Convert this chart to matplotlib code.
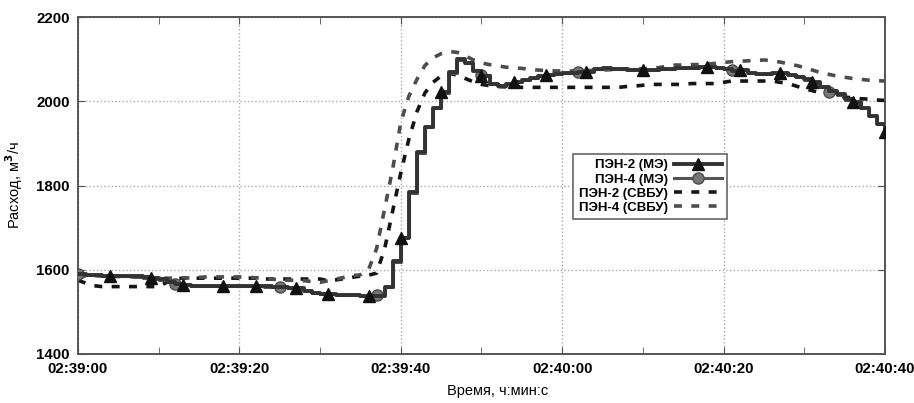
import numpy as np
import matplotlib
matplotlib.use("Agg")
from matplotlib import pyplot as plt
from matplotlib.ticker import MultipleLocator, FixedLocator

# seconds after 02:39:00, one sample per second
t = np.arange(0, 101)

pen2_me = [1590, 1588, 1587, 1586, 1586, 1586, 1585, 1584, 1582, 1581,
           1578, 1572, 1567, 1563, 1562, 1562, 1562, 1562, 1562, 1562,
           1562, 1562, 1562, 1561, 1560, 1558, 1557, 1556, 1550, 1545,
           1543, 1542, 1541, 1540, 1539, 1538, 1538, 1538, 1560, 1620,
           1676, 1784, 1879, 1940, 1985, 2022, 2070, 2100, 2092, 2072,
           2060, 2040, 2036, 2042, 2046, 2050, 2055, 2060, 2062, 2064,
           2066, 2068, 2070, 2070, 2076, 2078, 2077, 2076, 2075, 2074,
           2074, 2075, 2076, 2077, 2078, 2079, 2080, 2081, 2082, 2080,
           2076, 2073, 2075, 2068, 2065, 2064, 2066, 2066, 2062, 2058,
           2052, 2046, 2034, 2024, 2018, 2005, 1998, 1985, 1965, 1945,
           1927]

pen4_me = [1591, 1588, 1587, 1586, 1586, 1585, 1584, 1583, 1581, 1579,
           1575, 1570, 1566, 1563, 1562, 1562, 1562, 1562, 1562, 1562,
           1562, 1562, 1561, 1560, 1559, 1558, 1557, 1555, 1549, 1545,
           1543, 1542, 1541, 1540, 1539, 1538, 1538, 1539, 1558, 1618,
           1678, 1782, 1877, 1940, 1983, 2020, 2068, 2098, 2090, 2074,
           2062, 2042, 2037, 2042, 2046, 2050, 2055, 2059, 2062, 2064,
           2066, 2069, 2070, 2071, 2076, 2077, 2077, 2076, 2075, 2074,
           2074, 2075, 2076, 2077, 2078, 2079, 2080, 2081, 2081, 2079,
           2076, 2074, 2075, 2068, 2065, 2064, 2066, 2066, 2062, 2057,
           2051, 2044, 2033, 2022, 2016, 2004, 1997, 1984, 1965, 1946,
           1928]

pen2_svbu = [1575, 1568, 1562, 1560, 1560, 1560, 1560, 1560, 1560, 1560,
             1560, 1570, 1578, 1580, 1580, 1580, 1580, 1580, 1580, 1580,
             1580, 1580, 1580, 1578, 1578, 1578, 1578, 1578, 1578, 1578,
             1578, 1574, 1576, 1579, 1582, 1585, 1587, 1592, 1650, 1740,
             1830, 1910, 1975, 2020, 2045, 2060, 2066, 2062, 2054, 2046,
             2040, 2037, 2035, 2034, 2034, 2033, 2033, 2033, 2033, 2033,
             2033, 2033, 2033, 2033, 2033, 2033, 2033, 2033, 2035, 2036,
             2038, 2040, 2040, 2040, 2040, 2040, 2042, 2042, 2042, 2042,
             2045, 2048, 2048, 2048, 2048, 2048, 2048, 2045, 2042, 2036,
             2030, 2025, 2020, 2015, 2012, 2010, 2008, 2006, 2005, 2003,
             2002]

pen4_svbu = [1580, 1586, 1586, 1585, 1585, 1584, 1584, 1583, 1582, 1581,
             1580, 1580, 1580, 1580, 1581, 1582, 1583, 1583, 1583, 1583,
             1583, 1582, 1581, 1580, 1578, 1576, 1575, 1575, 1574, 1572,
             1570, 1574, 1578, 1582, 1586, 1588, 1600, 1650, 1745, 1840,
             1950, 2012, 2052, 2085, 2103, 2113, 2118, 2116, 2108, 2098,
             2091, 2087, 2084, 2081, 2079, 2078, 2076, 2074, 2073, 2072,
             2072, 2072, 2072, 2073, 2073, 2074, 2075, 2076, 2076, 2077,
             2077, 2078, 2080, 2083, 2086, 2086, 2087, 2087, 2088, 2090,
             2092, 2094, 2095, 2096, 2097, 2098, 2096, 2093, 2089, 2085,
             2080, 2074, 2068, 2064, 2060, 2057, 2054, 2052, 2050, 2049,
             2048]

tri_idx = [4, 9, 13, 18, 22, 27, 31, 36, 40, 45, 50, 54, 58, 63, 70, 78,
           82, 87, 91, 96, 100]
circ_idx = [0, 12, 25, 37, 50, 62, 81, 93]

xtick_pos = [0, 20, 40, 60, 80, 100]
xtick_labels = ['02:39:00', '02:39:20', '02:39:40', '02:40:00', '02:40:20', '02:40:40']

plt.rcParams['font.family'] = ['Liberation Sans', 'DejaVu Sans']
plt.rcParams['font.weight'] = 'bold'

fig = plt.figure(figsize=(9.14, 4.03), dpi=100)
ax = fig.add_axes([0.0853, 0.1216, 0.8830, 0.8362])

ax.plot(t, pen2_me, color='#333333', lw=2.8, drawstyle='steps-post',
        marker='^', markersize=9, markevery=tri_idx, markerfacecolor='#111111',
        markeredgecolor='#111111', label='ПЭН-2 (МЭ)', zorder=4)
ax.plot(t, pen4_me, color='#555555', lw=2.2, drawstyle='steps-post',
        marker='o', markersize=8, markevery=circ_idx, markerfacecolor='#777777',
        markeredgecolor='#4a4a4a', label='ПЭН-4 (МЭ)', zorder=3)
ax.plot(t, pen2_svbu, color='#151515', lw=2.6, dashes=(2.2, 2.6),
        label='ПЭН-2 (СВБУ)', zorder=2)
ax.plot(t, pen4_svbu, color='#4d4d4d', lw=2.6, dashes=(2.2, 2.6),
        label='ПЭН-4 (СВБУ)', zorder=2)

ax.set_xlim(0, 100)
ax.set_ylim(1400, 2200)
ax.xaxis.set_major_locator(FixedLocator(xtick_pos))
ax.set_xticklabels(xtick_labels)
ax.xaxis.set_minor_locator(MultipleLocator(10))
ax.yaxis.set_major_locator(MultipleLocator(200))

ax.tick_params(which='both', direction='in', top=True, right=True,
               color='#555555', labelsize=10.8, pad=6)
ax.tick_params(which='major', length=5)
ax.tick_params(which='minor', length=5)
ax.grid(True, which='major', color='#aaaaaa', linestyle=':', linewidth=1.0)

for s in ax.spines.values():
    s.set_color('#555555')
    s.set_linewidth(1.4)

ax.set_xlabel('Время, ч:мин:с', fontsize=10.5, labelpad=4)
ax.xaxis.set_label_coords(0.52, -0.09)
ax.set_ylabel('Расход, м$^3$/ч', fontsize=10.5, labelpad=8)

leg = ax.legend(loc='upper left', bbox_to_anchor=(0.6055, 0.6134),
                markerfirst=False, fontsize=9.5, handlelength=3.6,
                fancybox=False, framealpha=1, borderpad=0.4,
                labelspacing=0.15, handletextpad=0.5)
leg.get_frame().set_edgecolor('#666666')
leg.get_frame().set_linewidth(1.2)
for txt in leg.get_texts():
    txt.set_ha('right')
leg._legend_box.align = 'right'

fig.savefig('out.png', dpi=100)
